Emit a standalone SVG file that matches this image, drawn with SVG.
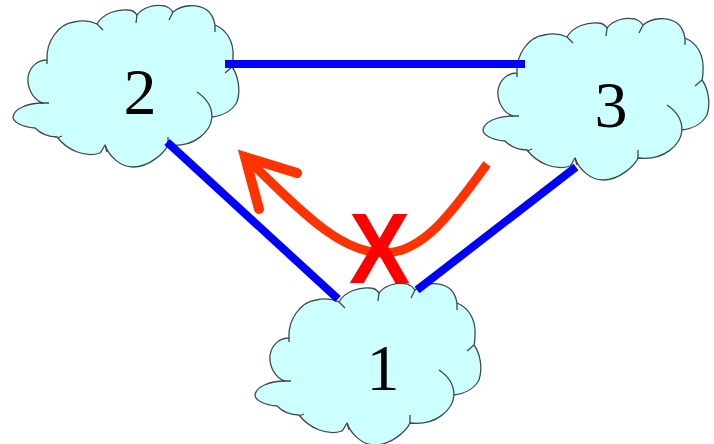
<svg xmlns="http://www.w3.org/2000/svg" width="714" height="444" viewBox="0 0 714 444">
<style>
.cloud{fill:#ccffff;stroke:#404848;stroke-width:1.3;stroke-linejoin:round}
.tick{fill:none;stroke:#404848;stroke-width:1.3}
.num{font-family:"Liberation Serif","Times New Roman",serif;font-size:66px;fill:#000;text-anchor:middle}
.link{stroke:#0000ff;stroke-width:8;fill:none}
.flow{stroke:#ff3300;stroke-width:9;fill:none}
.mark{font-family:"Liberation Sans",Arial,sans-serif;font-weight:bold;font-size:100px;fill:#ff0000;text-anchor:middle}
</style>
<defs>
<g id="cloudShape">
<path class="cloud" d="M47,60 C46,42 58,24 74,22 C82,20 91,21 97,24 C103,13 118,9 128,10 C132,10 135,12 137,15 C143,7 155,4 165,6 C168,7 171,9 173,12 C183,4 197,4 207,10 C211,13 214,19 215,25 C227,30 234,42 233,57 C233,60 233,64 232,67 C238,75 241,90 237,102 C232,111 222,116 212,117 C211,131 195,148 168,145 C165,152 150,167 133,167 C120,167 109,156 105,145 C103,148 102,151 100,153 C85,158 67,150 57,137 C48,137 40,133 35,128 C22,127 13,122 13,117 C14,109 27,103 43,103 C33,100 27,88 28,77 C30,66 38,60 47,60 Z"/>
<path class="tick" d="M97,24 L103,30 M137,15 L136,23 M173,12 L169,20 M215,25 L215,32 M232,67 L225,73 M197,92 C206,98 212,107 212,117 M168,145 L168,137 M105,145 L107,152 M57,138 L62,136 M41,103 L49,103 M47,60 L47,64"/>
</g>
</defs>
<g id="node-2">
<use href="#cloudShape"/>
<text class="num" x="140" y="114">2</text>
</g>
<g id="node-3">
<use href="#cloudShape" x="470" y="13"/>
<text class="num" x="611" y="127">3</text>
</g>
<g id="node-1">
<use href="#cloudShape" x="242" y="278"/>
<text class="num" x="383" y="390">1</text>
</g>
<g id="connectors">
<line class="link" x1="225" y1="64" x2="525" y2="64"/>
<line class="link" x1="167" y1="142" x2="338" y2="299"/>
<line class="link" x1="576" y1="167" x2="417" y2="290"/>
<path class="flow" d="M487,164 C455,208 425,252 385,253 C340,254 300,210 246,158"/>
<polyline class="flow" points="297,173 245,157 259,209" style="stroke-width:10;stroke-linecap:round;stroke-miterlimit:10"/>
</g>
<text id="cross" class="mark" x="379.5" y="283" textLength="61" lengthAdjust="spacingAndGlyphs">X</text>
</svg>
